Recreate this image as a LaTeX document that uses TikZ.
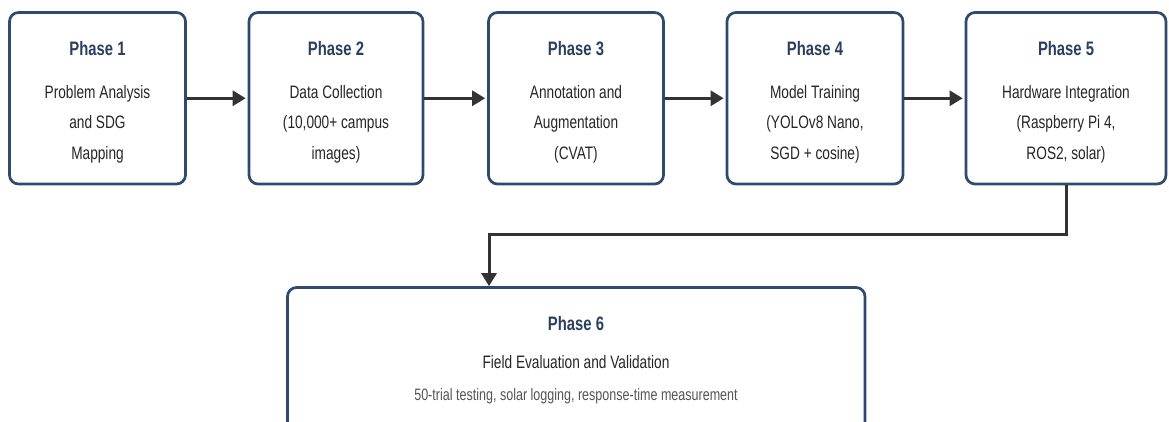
\documentclass[tikz,border=0pt]{standalone}
\usepackage{fontspec}
\setmainfont{Liberation Sans}[FakeStretch=0.76]
\usetikzlibrary{arrows.meta,calc}
\definecolor{boxline}{HTML}{2E4A6E}
\definecolor{titlec}{HTML}{2B3F5E}
\definecolor{bodyc}{HTML}{262626}
\definecolor{smallc}{HTML}{555555}
\definecolor{arrowc}{HTML}{333333}
\tikzset{
  phasebox/.style={draw=boxline, line width=2.7pt, rounded corners=9pt, fill=white, inner sep=0pt},
  titletext/.style={anchor=base, inner sep=0pt, text=titlec, font=\fontsize{19.5}{20}\selectfont\bfseries},
  bodytext/.style={anchor=base, inner sep=0pt, text=bodyc, font=\fontsize{18}{20}\selectfont},
  smalltext/.style={anchor=base, inner sep=0pt, text=smallc, font=\fontsize{16.5}{18}\selectfont},
  flow/.style={draw=arrowc, line width=3pt, -{Triangle[length=13pt,width=15pt]}},
}
\newcommand{\phasecard}[7]{%
  \node[phasebox, minimum width=#3pt, minimum height=171.5pt] (b#1) at (#2,98.25) {};
  \node[titletext] (b#1t) at (#2,55) {#4};
  \node[bodytext] (b#1a) at (#2,98) {#5};
  \node[bodytext] (b#1b) at (#2,128.5) {#6};
  \node[bodytext] (b#1c) at (#2,159) {#7};
}
\begin{document}
\begin{tikzpicture}[x=1pt,y=-1pt]
\useasboundingbox (0,0) rectangle (1169,421);
\clip (0,0) rectangle (1169,421);
\phasecard{1}{97.5}{176}{Phase 1}{Problem Analysis}{and SDG}{Mapping}
\phasecard{2}{336}{174}{Phase 2}{Data Collection}{(10,000+ campus}{images)}
\phasecard{3}{576}{175}{Phase 3}{Annotation and}{Augmentation}{(CVAT)}
\phasecard{4}{815}{176}{Phase 4}{Model Training}{(YOLOv8 Nano,}{SGD + cosine)}
\phasecard{5}{1066}{200}{Phase 5}{Hardware Integration}{(Raspberry Pi 4,}{ROS2, solar)}
\node[phasebox, minimum width=577.5pt, minimum height=155pt] (b6) at (576.25,365) {};
\node[titletext] (b6t) at (576,330) {Phase 6};
\node[bodytext] (b6a) at (576,368.5) {Field Evaluation and Validation};
\node[smalltext] (b6b) at (576,400) {50-trial testing, solar logging, response-time measurement};
\foreach \a/\b in {1/2,2/3,3/4,4/5}{
  \draw[flow, shorten >=2pt] (b\a.east) -- (b\b.west);
}
\coordinate (bend) at (489,234);
\draw[flow] (b5.south) |- (bend) -- (bend |- b6.north);
\end{tikzpicture}
\end{document}
